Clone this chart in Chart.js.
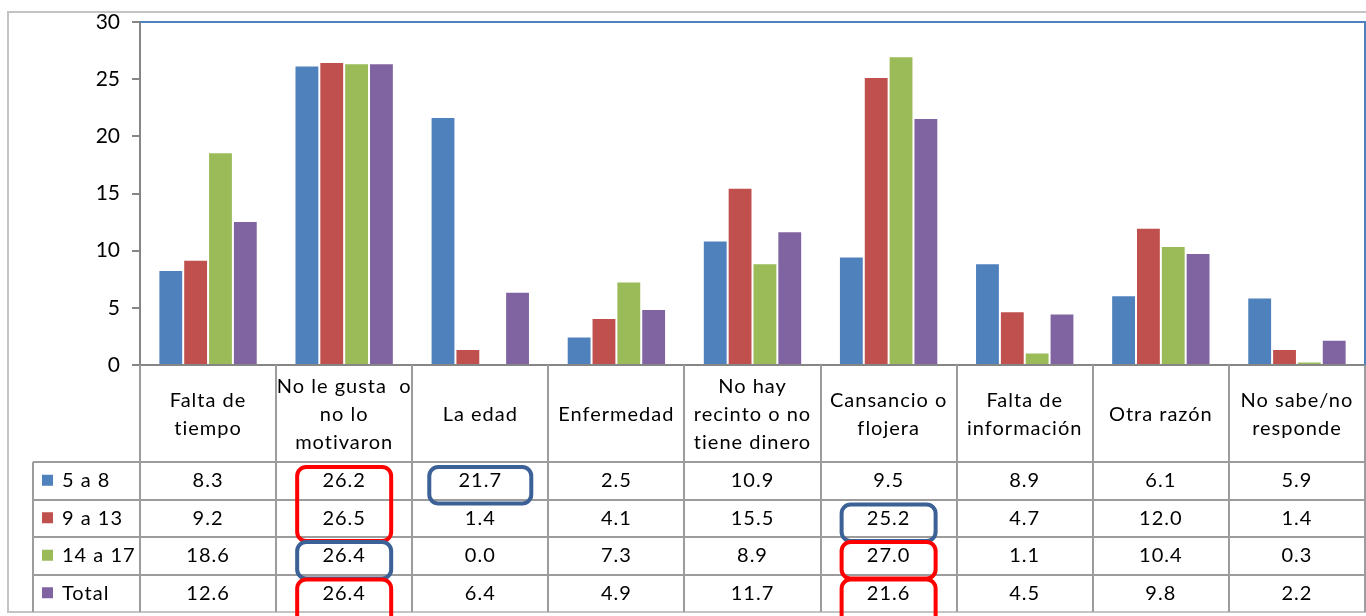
<!DOCTYPE html>
<html>
<head>
<meta charset="utf-8">
<script src="https://cdn.jsdelivr.net/npm/chart.js@4/dist/chart.umd.min.js"></script>
<style>
  html, body { margin: 0; padding: 0; background: #fff; }
  canvas { display: block; }
</style>
</head>
<body>
<canvas id="razones" width="1366" height="616"></canvas>
<script>
// Categories (header cells of the data table, one array per line break)
const categories = [
  ['Falta de', 'tiempo'],
  ['No le gusta  o', 'no lo', 'motivaron'],
  ['La edad'],
  ['Enfermedad'],
  ['No hay', 'recinto o no', 'tiene dinero'],
  ['Cansancio o', 'flojera'],
  ['Falta de', 'información'],
  ['Otra razón'],
  ['No sabe/no', 'responde']
]

// Series values
const seriesNames = ['5 a 8', '9 a 13', '14 a 17', 'Total']
const edad5a8 = [8.3, 26.2, 21.7, 2.5, 10.9, 9.5, 8.9, 6.1, 5.9]
const edad9a13 = [9.2, 26.5, 1.4, 4.1, 15.5, 25.2, 4.7, 12.0, 1.4]
const edad14a17 = [18.6, 26.4, 0.0, 7.3, 8.9, 27.0, 1.1, 10.4, 0.3]
const total = [12.6, 26.4, 6.4, 4.9, 11.7, 21.6, 4.5, 9.8, 2.2]
const colors = ['#4F81BD', '#C0504D', '#9BBB59', '#8064A2']

// Y axis ticks
const yMin = 0
const yMax = 30
const yStep = 5

// Boxes drawn around table cells: [category, first row, last row, colour]
const highlights = [
  [1, 0, 1, '#FF0000'],
  [1, 2, 2, '#3B6196'],
  [1, 3, 3, '#FF0000'],
  [2, 0, 0, '#3B6196'],
  [5, 1, 1, '#3B6196'],
  [5, 2, 2, '#FF0000'],
  [5, 3, 3, '#FF0000']
]

const FONT = 'Lato, "Open Sans", sans-serif'
const GRID = '#9C9C9C'
const HEADER_H = 97
const ROW_H = 37.5
const TABLE_LEFT = 33

const allSeries = [edad5a8, edad9a13, edad14a17, total]

// Draws the data table under the plot, lined up with the x scale
const tablePlugin = {
  id: 'dataTable',
  afterDraw (chart) {
    const ctx = chart.ctx
    const area = chart.chartArea
    const x = chart.scales.x
    const n = categories.length
    const catW = (area.right - area.left) / n
    const top = area.bottom
    const rowsTop = top + HEADER_H
    const bottom = rowsTop + ROW_H * allSeries.length

    ctx.save()

    // outer chart border
    ctx.strokeStyle = '#C4C4C4'
    ctx.lineWidth = 2
    ctx.strokeRect(8, 12, chart.width, bottom - 12)

    // plot area border (top and right in blue)
    ctx.strokeStyle = '#4F81BD'
    ctx.lineWidth = 2
    ctx.beginPath()
    ctx.moveTo(area.left, area.top)
    ctx.lineTo(area.right, area.top)
    ctx.lineTo(area.right, area.bottom)
    ctx.stroke()

    // table grid
    ctx.strokeStyle = GRID
    ctx.lineWidth = 2
    ctx.beginPath()
    for (let i = 0; i <= n; i++) {
      const bx = Math.round(area.left + i * catW)
      ctx.moveTo(bx, top)
      ctx.lineTo(bx, bottom)
    }
    ctx.moveTo(TABLE_LEFT, rowsTop)
    ctx.lineTo(TABLE_LEFT, bottom)
    for (let r = 0; r < allSeries.length; r++) {
      const y = Math.round(rowsTop + r * ROW_H)
      ctx.moveTo(TABLE_LEFT, y)
      ctx.lineTo(area.right, y)
    }
    ctx.stroke()

    // header labels
    ctx.fillStyle = '#000'
    ctx.textAlign = 'center'
    ctx.textBaseline = 'middle'
    ctx.font = '20px ' + FONT
    ctx.letterSpacing = '1px'
    const lineH = 28
    categories.forEach(function (lines, i) {
      const cx = x.getPixelForValue(i)
      const cy = top + HEADER_H / 2 + 1 - (lines.length - 1) * lineH / 2
      lines.forEach(function (t, k) {
        ctx.fillText(t, cx, cy + k * lineH)
      })
    })

    // rows: legend key, name and values
    allSeries.forEach(function (vals, r) {
      const cy = rowsTop + r * ROW_H + ROW_H / 2
      ctx.fillStyle = colors[r]
      ctx.fillRect(TABLE_LEFT + 9, cy - 6, 11, 11)
      ctx.fillStyle = '#000'
      ctx.textAlign = 'left'
      ctx.fillText(seriesNames[r], TABLE_LEFT + 29, cy)
      ctx.textAlign = 'center'
      vals.forEach(function (v, i) {
        ctx.fillText(v.toFixed(1), x.getPixelForValue(i), cy)
      })
    })

    // highlight boxes
    ctx.lineWidth = 4
    highlights.forEach(function (h) {
      const cx = x.getPixelForValue(h[0])
      const half = h[0] === 2 ? 51 : 47
      const y0 = rowsTop + h[1] * ROW_H + 5
      let y1 = rowsTop + (h[2] + 1) * ROW_H + 4
      if (h[2] === allSeries.length - 1) y1 += 20
      ctx.strokeStyle = h[3]
      ctx.beginPath()
      ctx.roundRect(cx - half, y0, half * 2, y1 - y0, 9)
      ctx.stroke()
    })

    ctx.restore()
  }
}

var ctx = document.getElementById('razones').getContext('2d')
var chart = new Chart(ctx, {
  type: 'bar',
  data: {
    labels: categories.map(function (c) { return c.join(' ') }),
    datasets: allSeries.map(function (vals, i) {
      return {
        label: seriesNames[i],
        data: vals,
        backgroundColor: colors[i],
        borderColor: 'rgba(255,255,255,0.5)',
        borderWidth: { top: 1, left: 1, right: 1, bottom: 0 },
        categoryPercentage: 0.73,
        barPercentage: 1
      }
    })
  },
  options: {
    responsive: false,
    devicePixelRatio: 1,
    animation: false,
    layout: {
      padding: { left: 8, top: 22, right: 1, bottom: HEADER_H + ROW_H * 4 + 4 }
    },
    plugins: {
      legend: { display: false },
      tooltip: { enabled: false }
    },
    scales: {
      x: {
        grid: { display: false },
        ticks: { display: false },
        border: { display: true, color: '#868686', width: 2 },
        afterFit: function (scale) { scale.height = 0 }
      },
      y: {
        min: yMin,
        max: yMax,
        ticks: {
          stepSize: yStep,
          color: '#000',
          padding: 12,
          font: { family: FONT, size: 21 }
        },
        grid: {
          drawOnChartArea: false,
          drawTicks: true,
          tickLength: 8,
          color: '#868686',
          lineWidth: 2
        },
        border: { display: true, color: '#868686', width: 2 },
        afterFit: function (scale) {
          scale.width = 132
          scale.paddingTop = 0
          scale.paddingBottom = 0
        }
      }
    }
  },
  plugins: [tablePlugin]
})
</script>
</body>
</html>
